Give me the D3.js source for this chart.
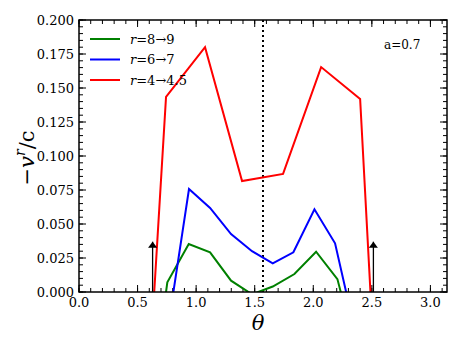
<!DOCTYPE html>
<html>
<head>
<meta charset="utf-8">
<script src="https://cdn.jsdelivr.net/npm/d3@7"></script>
<style>
  body { margin: 0; background: #fff; }
</style>
</head>
<body>
<div id="chart"></div>
<script>
// data (theta, -v^r/c); points below 0 are clipped by the frame
var green = [[0.575, -0.108], [0.754, 0.0071], [0.937, 0.0353], [1.119, 0.0292], [1.298, 0.0083],
             [1.477, -0.0017], [1.654, 0.0040], [1.839, 0.0132], [2.024, 0.0296], [2.206, 0.0095], [2.385, -0.05]];
var blue = [[0.76, -0.026], [0.939, 0.0757], [1.119, 0.0618], [1.298, 0.0426], [1.477, 0.0300],
            [1.654, 0.0211], [1.830, 0.0292], [2.010, 0.0608], [2.186, 0.0358], [2.365, -0.032]];
var red = [[0.41, -0.33], [0.743, 0.1434], [1.076, 0.1800], [1.392, 0.0816], [1.742, 0.0868],
           [2.067, 0.1654], [2.400, 0.1420], [2.73, -0.39]];
var seriesNames = ["r=8\u21929", "r=6\u21927", "r=4\u21924.5"];
var seriesColors = ["#008000", "#0000ff", "#ff0000"];
var arrowsAt = [Math.PI / 5, 4 * Math.PI / 5];
var arrowLen = 0.037;
var xTicks = [0, 0.5, 1, 1.5, 2, 2.5, 3];
var yTicks = [0, 0.025, 0.05, 0.075, 0.1, 0.125, 0.15, 0.175, 0.2];

var W = 463, H = 347;
var FONT = "'DejaVu Serif', serif";
var margin = {top: 20, right: 16, bottom: 55, left: 79},
    width = W - margin.left - margin.right,
    height = H - margin.top - margin.bottom;

var svg = d3.select("#chart").append("svg")
    .attr("width", W).attr("height", H)
  .append("g")
    .attr("transform", "translate(" + margin.left + "," + margin.top + ")");

var x = d3.scaleLinear().domain([0, Math.PI]).range([0, width]);
var y = d3.scaleLinear().domain([0, 0.2]).range([height, 0]);

var defs = svg.append("defs");
defs.append("clipPath").attr("id", "clip")
  .append("rect").attr("width", width).attr("height", height);
defs.append("marker").attr("id", "head")
    .attr("viewBox", "0 0 10 10").attr("refX", 10).attr("refY", 5)
    .attr("markerWidth", 6).attr("markerHeight", 9)
    .attr("markerUnits", "userSpaceOnUse")
    .attr("orient", "auto").attr("preserveAspectRatio", "none")
  .append("path").attr("d", "M0,0 L10,5 L0,10 z").attr("fill", "#000");

// ticks (inward, all four sides)
var xMinor = d3.range(0, 3.15, 0.1);
var yMinor = d3.range(0, 0.2001, 0.005);
var axisG = svg.append("g").attr("class", "ticks").attr("stroke", "#000").attr("stroke-width", 1);
function tickLines(vals, len) {
  vals.forEach(function(v) {
    axisG.append("line").attr("x1", x(v)).attr("x2", x(v)).attr("y1", height).attr("y2", height - len);
    axisG.append("line").attr("x1", x(v)).attr("x2", x(v)).attr("y1", 0).attr("y2", len);
  });
}
function tickLinesY(vals, len) {
  vals.forEach(function(v) {
    axisG.append("line").attr("y1", y(v)).attr("y2", y(v)).attr("x1", 0).attr("x2", len);
    axisG.append("line").attr("y1", y(v)).attr("y2", y(v)).attr("x1", width).attr("x2", width - len);
  });
}
tickLines(xMinor, 4);
tickLines(xTicks, 7);
tickLinesY(yMinor, 4);
tickLinesY(yTicks, 7);

svg.append("g").selectAll("text").data(xTicks).enter().append("text")
    .style("font-family", FONT)
    .attr("x", function(d) { return x(d); }).attr("y", height + 15)
    .attr("text-anchor", "middle").style("font-size", "13px")
    .text(function(d) { return d3.format(".1f")(d); });
svg.append("g").selectAll("text").data(yTicks).enter().append("text")
    .style("font-family", FONT)
    .attr("x", -5).attr("y", function(d) { return y(d) + 4.5; })
    .attr("text-anchor", "end").style("font-size", "13px")
    .text(function(d) { return d3.format(".3f")(d); });

// dotted line at pi/2
svg.append("line")
    .attr("x1", x(Math.PI / 2)).attr("x2", x(Math.PI / 2))
    .attr("y1", 0).attr("y2", height)
    .attr("stroke", "#000").attr("stroke-width", 2).attr("stroke-dasharray", "2,3");

var line = d3.line().x(function(d) { return x(d[0]); }).y(function(d) { return y(d[1]); });
var plot = svg.append("g").attr("clip-path", "url(#clip)");
[green, blue, red].forEach(function(s, i) {
  plot.append("path").datum(s).attr("d", line)
      .attr("fill", "none").attr("stroke", seriesColors[i]).attr("stroke-width", 2);
});

// arrows
svg.selectAll(".arrow").data(arrowsAt).enter().append("line")
    .attr("class", "arrow")
    .attr("x1", function(d) { return x(d); }).attr("x2", function(d) { return x(d); })
    .attr("y1", y(0)).attr("y2", y(arrowLen))
    .attr("stroke", "#000").attr("stroke-width", 1.3)
    .attr("marker-end", "url(#head)");

// frame
svg.append("rect").attr("width", width).attr("height", height)
    .attr("fill", "none").attr("stroke", "#000").attr("stroke-width", 1.5);

// legend
var leg = svg.append("g").attr("transform", "translate(11,19)");
seriesNames.forEach(function(n, i) {
  leg.append("line").attr("x1", 0).attr("x2", 30).attr("y1", i * 20.5).attr("y2", i * 20.5)
      .attr("stroke", seriesColors[i]).attr("stroke-width", 2);
  var t = leg.append("text").style("font-family", FONT)
      .attr("x", 40).attr("y", i * 20.5 + 4.5).style("font-size", "13px");
  t.append("tspan").style("font-style", "italic").text("r");
  t.append("tspan").text(n.slice(1));
});

svg.append("text").style("font-family", FONT).attr("x", 305).attr("y", 29)
    .style("font-size", "12px").text("a=0.7");

// axis labels
svg.append("text").style("font-family", FONT).attr("x", width / 2 - 5).attr("y", height + 38)
    .attr("text-anchor", "middle").style("font-size", "21px").style("font-style", "italic").text("\u03b8");
var yl = svg.append("text").style("font-family", FONT)
    .attr("transform", "translate(-45," + (height / 2 + 2) + ") rotate(-90)")
    .attr("text-anchor", "middle").style("font-size", "21px");
yl.append("tspan").text("\u2212");
yl.append("tspan").style("font-style", "italic").text("v");
yl.append("tspan").style("font-style", "italic").style("font-size", "14px").attr("dy", -9).text("r");
yl.append("tspan").attr("dy", 9).text("/c");
</script>
</body>
</html>
